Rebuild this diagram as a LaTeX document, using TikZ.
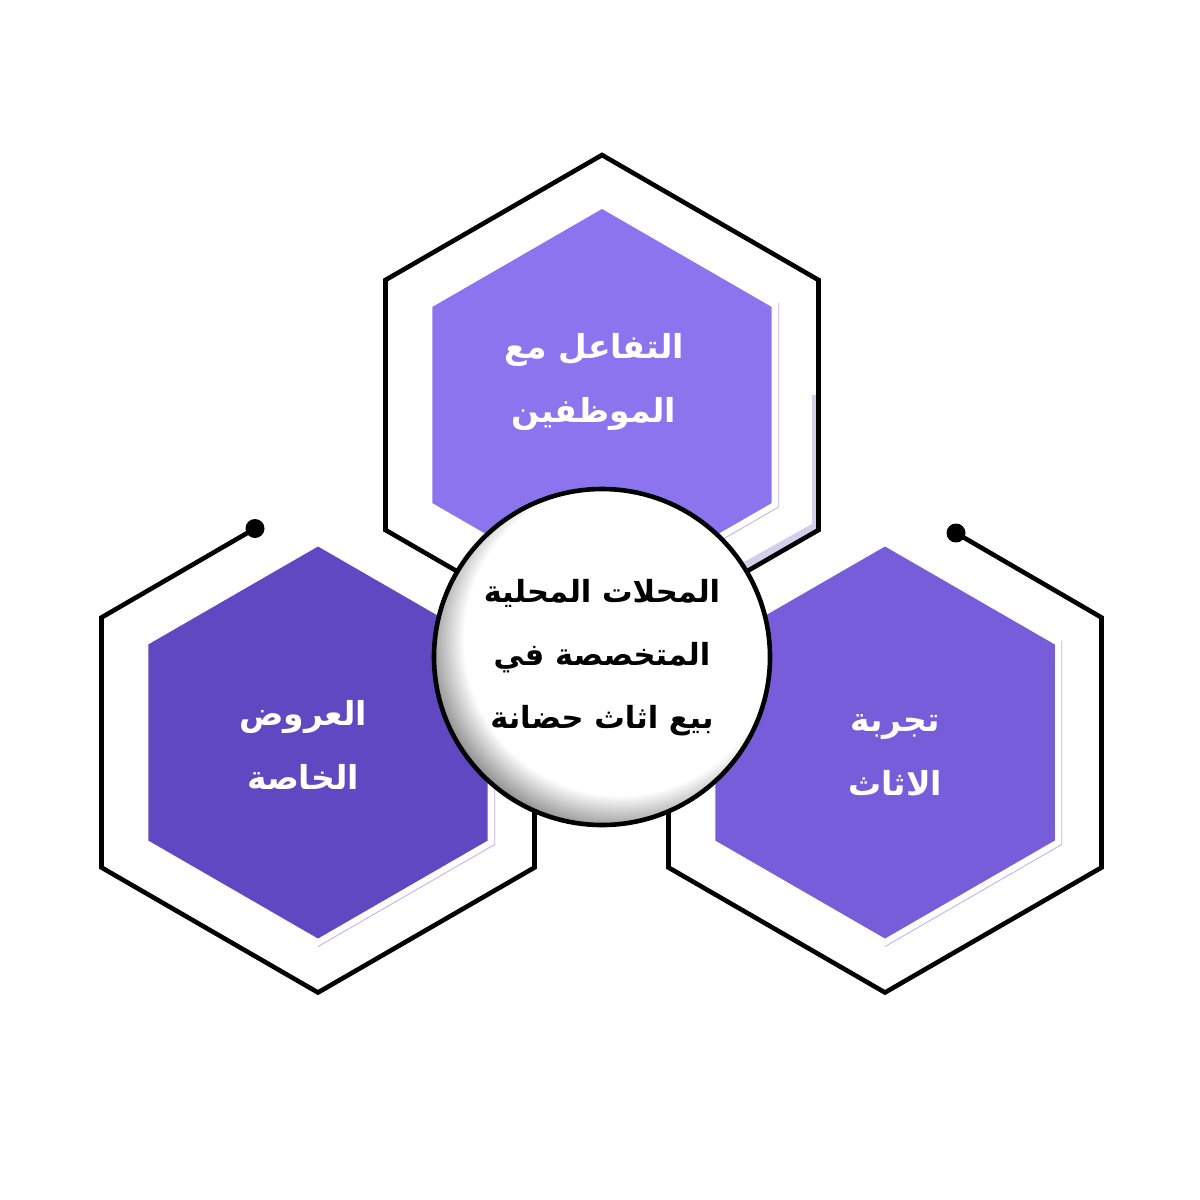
\documentclass[tikz,border=0pt]{standalone}
\usepackage{fontspec}
\usetikzlibrary{calc}
\TeXXeTstate=1
\newfontfamily\arabicfont[Script=Arabic]{DejaVu Sans}
\definecolor{topfill}{HTML}{8C74EF}
\definecolor{leftfill}{HTML}{5F48C2}
\definecolor{rightfill}{HTML}{775DD9}
\definecolor{shadowline}{HTML}{B9AEF2}
\definecolor{shadowband}{HTML}{D3CEEA}
\pgfdeclareradialshading{ballshade}{\pgfpoint{0bp}{0bp}}{color(0bp)=(white); color(19.5bp)=(white); color(24.2bp)=(black!45); color(25bp)=(black!50); color(50bp)=(black!50)}
\tikzset{
  outline/.style={draw=black, line width=4.6pt, miter limit=10},
  innershadow/.style={draw=shadowline, line width=0.8pt},
  hexlabel/.style={text=white, align=center, font=\arabicfont\bfseries\fontsize{33}{64}\selectfont},
  centerlabel/.style={text=black, align=center, font=\arabicfont\bfseries\fontsize{30.5}{63}\selectfont},
  dotend/.style={fill=black}
}
\begin{document}
\begin{tikzpicture}[x=1pt,y=-1pt]
\useasboundingbox (0,0) rectangle (1200,1200);
\fill[white] (0,0) rectangle (1200,1200);
\coordinate (T) at (602,405);
\coordinate (L) at (318,742.5);
\coordinate (R) at (885,742.5);
\foreach \c in {T,L,R}{
  \foreach \v/\a in {t/-90,ur/-30,lr/30,b/90,ll/150,ul/210}{
    \coordinate (\c o\v) at ($(\c)+(\a:250)$);
    \coordinate (\c i\v) at ($(\c)+(\a:196)$);
    \coordinate (\c s\v) at ($(\c)+(\a:204)$);
  }
}
\coordinate (ldot) at (255,528.5);
\coordinate (rdot) at (956,533);
% top hexagon
\fill[shadowband] (812,395) -- (817.5,395) -- (817.5,529) -- (748,569) -- (744,562) -- (812,524) -- cycle;
\draw[outline] (Tot) -- (Tour) -- (Tolr) -- (Tob) -- (Toll) -- (Toul) -- cycle;
\draw[innershadow] (Tsur) -- (Tslr) -- (Tsb);
\fill[topfill] (Tit) -- (Tiur) -- (Tilr) -- (Tib) -- (Till) -- (Tiul) -- cycle;
% left hexagon
\draw[outline] (ldot) -- (Loul) -- (Loll) -- (Lob) -- (Lolr) -- ($(Lolr)!0.35!(Lour)$);
\fill[dotend] (ldot) circle (9.5);
\draw[innershadow] (Lsur) -- (Lslr) -- (Lsb);
\fill[leftfill] (Lit) -- (Liur) -- (Lilr) -- (Lib) -- (Lill) -- (Liul) -- cycle;
% right hexagon
\draw[outline] (rdot) -- (Rour) -- (Rolr) -- (Rob) -- (Roll) -- ($(Roll)!0.35!(Roul)$);
\fill[dotend] (rdot) circle (9.5);
\draw[innershadow] (Rsur) -- (Rslr) -- (Rsb);
\fill[rightfill] (Rit) -- (Riur) -- (Rilr) -- (Rib) -- (Rill) -- (Riul) -- cycle;
% labels
\node[hexlabel] (toplabel) at (594,382) {\beginR التفاعل مع\endR\\\beginR الموظفين\endR};
\node[hexlabel] (leftlabel) at (303,745) {\beginR العروض\endR\\\beginR الخاصة\endR};
\node[hexlabel] (rightlabel) at (895,755) {\beginR تجربة\endR\\\beginR الاثاث\endR};
% centre circle
\node[circle, draw=black, fill=white, line width=4.6pt, minimum size=336pt, inner sep=0pt,
  path picture={\shade[shading=ballshade] ($(path picture bounding box.center)+(18,-18)$) circle (200);}] (hub) at (602,657) {};
\node[centerlabel] (hublabel) at (602,658) {\beginR المحلات المحلية\endR\\\beginR المتخصصة في\endR\\\beginR بيع اثاث حضانة\endR};
\end{tikzpicture}
\end{document}
